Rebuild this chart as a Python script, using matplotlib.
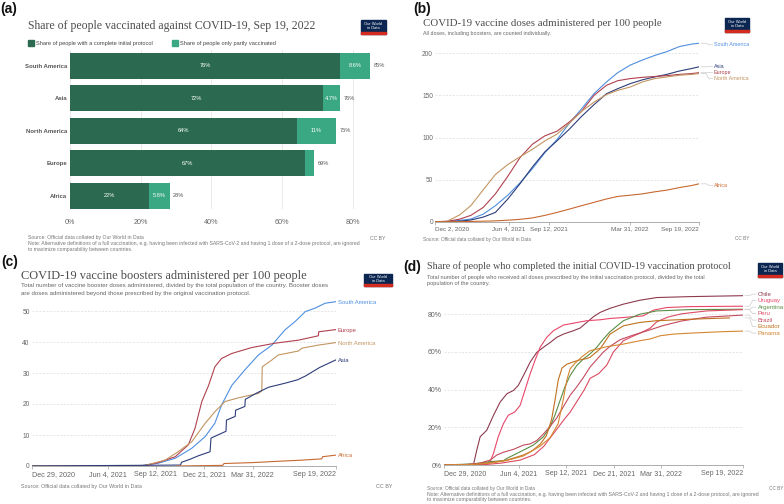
import matplotlib
matplotlib.use("Agg")
import matplotlib.pyplot as plt
import matplotlib.dates as mdates
from matplotlib.lines import Line2D
from matplotlib.patches import Rectangle
import numpy as np
import pandas as pd

plt.rcParams['font.family'] = ['Liberation Sans', 'DejaVu Sans']

# ------------------------------------------------------------------ data
# (a) share vaccinated, Sep 19 2022
A_CATS = ["South America", "Asia", "North America", "Europe", "Africa"]
A_COMPLETE = [76.4, 71.7, 64.3, 66.6, 22.4]
A_PARTLY = [8.6, 4.7, 11.0, 2.5, 5.8]
A_XTICKS = [0, 20, 40, 60, 80]
A_LEGEND = ["Share of people with a complete initial protocol",
            "Share of people only partly vaccinated"]

# (b) doses administered per 100 people
B_DATES = ["2020-12-02", "2021-01-01", "2021-02-01", "2021-03-01", "2021-04-01",
           "2021-05-01", "2021-06-01", "2021-07-01", "2021-08-01", "2021-09-01",
           "2021-10-01", "2021-11-01", "2021-12-01", "2022-01-01", "2022-02-01",
           "2022-03-01", "2022-04-01", "2022-05-01", "2022-06-01", "2022-07-01",
           "2022-08-01", "2022-09-01", "2022-09-19"]
B_SOUTH_AMERICA = [0, 0.3, 1.5, 3.2, 9, 19, 31.5, 46, 63, 82, 97.5, 117, 134, 152,
                   166, 177, 186, 192, 197.5, 202, 208, 211, 212]
B_ASIA = [0, 0.1, 0.6, 2, 5.5, 11, 27, 45, 65, 83, 96, 110, 125, 139, 152, 158,
          164, 168.5, 172, 175, 179, 182, 184]
B_EUROPE = [0, 0.4, 3, 7.5, 17, 33, 54, 76, 92, 102, 107.5, 118.5, 131, 150, 162,
            167.5, 170, 171.5, 172.5, 173.5, 175, 176, 177]
B_NORTH_AMERICA = [0, 0.5, 8, 19, 38, 56, 68, 77, 86, 96, 104, 117, 131, 142, 151,
                   156, 160, 166, 170, 172, 174, 175, 176]
B_AFRICA = [0, 0, 0.1, 0.3, 0.6, 1, 1.8, 2.8, 4.5, 7.5, 11, 15, 19, 23, 27, 30,
            31.5, 33, 35.5, 37.5, 40.5, 43, 45]
B_XTICKS = ["2020-12-02", "2021-06-04", "2021-09-12", "2022-03-31", "2022-09-19"]
B_YTICKS = [0, 50, 100, 150, 200]

# (c) boosters per 100 people
C_SOUTH_AMERICA_DATES = ["2020-12-29", "2021-08-07", "2021-09-17", "2021-10-22",
                         "2021-11-25", "2021-12-23", "2022-01-12", "2022-01-26",
                         "2022-02-16", "2022-03-15", "2022-04-12", "2022-05-10",
                         "2022-06-06", "2022-06-27", "2022-07-18", "2022-08-07",
                         "2022-08-28", "2022-09-19"]
C_SOUTH_AMERICA = [0, 0, 0.9, 2.5, 5.7, 9.5, 13.8, 19.7, 26, 31, 35.8, 39, 43.9,
                   46.6, 49.8, 50.9, 52.5, 53]
C_EUROPE_DATES = ["2020-12-29", "2021-08-14", "2021-09-17", "2021-10-22",
                  "2021-11-18", "2021-12-02", "2021-12-16", "2021-12-30",
                  "2022-01-12", "2022-01-26", "2022-02-16", "2022-03-29",
                  "2022-05-16", "2022-07-04", "2022-08-14", "2022-08-15",
                  "2022-09-19"]
C_EUROPE = [0, 0, 1.1, 3, 6.8, 12.2, 20.8, 26, 32, 34.7, 36.3, 38.2, 39.6, 40.6,
            42, 43.3, 44]
C_NORTH_AMERICA_DATES = ["2020-12-29", "2021-08-16", "2021-10-01", "2021-10-28",
                         "2021-11-25", "2021-12-23", "2022-01-12", "2022-02-02",
                         "2022-03-02", "2022-04-12", "2022-04-19", "2022-04-20",
                         "2022-05-10", "2022-05-23", "2022-07-04", "2022-07-11",
                         "2022-08-14", "2022-09-19"]
C_NORTH_AMERICA = [0, 0, 1.9, 4.6, 7.8, 13.8, 17.5, 20.8, 22, 23.4, 24.2, 32,
                   34.2, 35.8, 37.1, 38, 39, 39.8]
C_ASIA_DATES = ["2020-12-29", "2021-11-02", "2021-11-04", "2021-11-22",
                "2021-12-09", "2022-01-02", "2022-01-04", "2022-02-04",
                "2022-02-05", "2022-02-23", "2022-02-24", "2022-03-15",
                "2022-03-16", "2022-04-08", "2022-05-03", "2022-06-06",
                "2022-07-02", "2022-07-18", "2022-08-17", "2022-09-19"]
C_ASIA = [0, 0.3, 1.2, 2.2, 3.3, 4.6, 9, 11.2, 14.8, 16, 18, 19.2, 21.5, 23.5,
          25.4, 26.7, 27.8, 29, 31.8, 34.2]
C_AFRICA_DATES = ["2021-10-25", "2022-01-28", "2022-01-31", "2022-03-31",
                  "2022-06-02", "2022-07-12", "2022-08-21", "2022-08-23",
                  "2022-09-19"]
C_AFRICA = [0, 0.2, 0.8, 1.1, 1.6, 1.9, 2.3, 3.0, 3.5]
C_XTICKS = ["2020-12-29", "2021-06-04", "2021-09-12", "2021-12-21", "2022-03-31",
            "2022-09-19"]
C_YTICKS = [0, 10, 20, 30, 40, 50]

# (d) share with complete initial protocol
D_CHILE_DATES = ["2020-12-29", "2021-03-01", "2021-03-08", "2021-03-15", "2021-03-29",
                 "2021-04-12", "2021-04-26", "2021-05-10", "2021-05-24", "2021-06-03",
                 "2021-06-14", "2021-06-28", "2021-07-12", "2021-07-26", "2021-08-09",
                 "2021-08-23", "2021-09-06", "2021-09-27", "2021-10-11", "2021-10-25",
                 "2021-11-08", "2021-11-22", "2021-12-13", "2022-01-10", "2022-02-14",
                 "2022-03-21", "2022-05-30", "2022-09-19"]
D_CHILE = [0, 0.3, 8, 15, 18.5, 26.4, 33.4, 37.8, 39.6, 42.2, 47.5, 54.6, 59.8, 62.5,
           65, 67.8, 69.5, 71.3, 72.7, 75.7, 78.7, 81, 83.2, 85.4, 87.5, 88.9, 89.4,
           89.9]
D_URUGUAY_DATES = ["2020-12-29", "2021-03-29", "2021-04-05", "2021-04-12", "2021-04-22",
                   "2021-05-03", "2021-05-13", "2021-05-27", "2021-06-07", "2021-06-17",
                   "2021-06-28", "2021-07-08", "2021-07-19", "2021-08-02", "2021-08-16",
                   "2021-09-06", "2021-09-27", "2021-10-25", "2021-11-22", "2021-12-13",
                   "2022-01-10", "2022-02-21", "2022-03-14", "2022-04-11", "2022-05-30",
                   "2022-09-19"]
D_URUGUAY = [0, 0.5, 1.8, 6.2, 15, 22, 26.4, 28.2, 31.7, 39.6, 48.4, 55.4, 62.5, 67.8,
             71.3, 74.3, 75.3, 76.6, 77.1, 77.8, 78.3, 79.2, 82.2, 83.6, 84.1, 84.3]
D_ARGENTINA_DATES = ["2020-12-29", "2021-03-01", "2021-04-05", "2021-05-03",
                     "2021-05-10", "2021-06-07", "2021-07-05", "2021-07-26",
                     "2021-08-09", "2021-08-19", "2021-08-30", "2021-09-09",
                     "2021-09-20", "2021-10-04", "2021-10-18", "2021-11-01",
                     "2021-11-15", "2021-11-29", "2021-12-13", "2022-01-10",
                     "2022-02-14", "2022-03-21", "2022-05-30", "2022-09-19"]
D_ARGENTINA = [0, 0.6, 1.8, 2.3, 3.5, 7, 10.6, 15, 20.2, 26.4, 34.3, 41.4, 47.5,
               52.8, 56.3, 59, 62.5, 66.9, 70.8, 76.6, 80.1, 81.8, 82.5, 82.7]
D_PERU_DATES = ["2020-12-29", "2021-03-29", "2021-04-28", "2021-06-07", "2021-07-07",
                "2021-07-27", "2021-08-11", "2021-08-26", "2021-09-10", "2021-09-20",
                "2021-10-05", "2021-10-20", "2021-11-01", "2021-11-19", "2021-12-06",
                "2021-12-20", "2022-01-10", "2022-01-31", "2022-02-14", "2022-03-07",
                "2022-03-21", "2022-04-13", "2022-05-13", "2022-07-04", "2022-09-19"]
D_PERU = [0, 0.3, 1, 2.6, 5.5, 10, 15, 20, 25, 28, 34, 40, 46, 48.5, 53, 60, 66,
          68.5, 70, 72.6, 76, 78.5, 80.3, 81.8, 82.5]
D_BRAZIL_DATES = ["2020-12-29", "2021-02-17", "2021-03-15", "2021-04-05", "2021-04-19",
                  "2021-05-03", "2021-05-24", "2021-06-14", "2021-06-28", "2021-07-12",
                  "2021-07-26", "2021-08-09", "2021-08-23", "2021-09-06", "2021-09-20",
                  "2021-10-04", "2021-10-18", "2021-11-01", "2021-11-15", "2021-11-29",
                  "2021-12-13", "2022-01-03", "2022-01-31", "2022-03-04", "2022-04-03",
                  "2022-05-13", "2022-07-04", "2022-09-19"]
D_BRAZIL = [0, 0.3, 1, 2.6, 5.3, 6.8, 8.3, 10.6, 11.2, 13, 16.5, 20.5, 25, 31, 37,
            41.5, 46.5, 52, 56, 60, 63, 66.5, 69, 71.5, 74, 76.5, 78.5, 79.6]
D_ECUADOR_DATES = ["2020-12-29", "2021-03-01", "2021-04-05", "2021-05-10", "2021-06-14",
                   "2021-07-02", "2021-07-19", "2021-08-01", "2021-08-12", "2021-08-19",
                   "2021-08-26", "2021-09-03", "2021-09-13", "2021-09-27", "2021-10-11",
                   "2021-10-25", "2021-11-01", "2021-11-22", "2021-12-13", "2022-01-10",
                   "2022-02-14", "2022-03-21", "2022-05-30", "2022-08-21"]
D_ECUADOR = [0, 0.3, 1.2, 2.6, 5.3, 7.5, 11, 15.5, 24, 34, 45, 51.5, 53.5, 54.8,
             55.8, 56.5, 57.2, 61.6, 69.5, 73.9, 75.7, 76.6, 77.4, 78.1]
D_PANAMA_DATES = ["2020-12-29", "2021-03-01", "2021-04-05", "2021-05-10", "2021-06-14",
                  "2021-07-19", "2021-08-09", "2021-08-26", "2021-09-05", "2021-09-13",
                  "2021-09-20", "2021-09-30", "2021-10-15", "2021-11-01", "2021-12-06",
                  "2022-01-10", "2022-02-14", "2022-03-07", "2022-03-28", "2022-04-25",
                  "2022-05-30", "2022-08-08", "2022-09-19"]
D_PANAMA = [0, 0.3, 1.0, 2.4, 4.8, 10, 14.5, 22, 34, 45, 51, 54, 57.5, 60.7, 62.8,
            64.2, 66, 66.9, 68.6, 69.5, 70, 70.8, 71.1]
D_XTICKS = ["2020-12-29", "2021-06-04", "2021-09-12", "2021-12-21", "2022-03-31",
            "2022-09-19"]
D_YTICKS = [0, 20, 40, 60, 80]

# ------------------------------------------------------------------ style
SERIF = ['Liberation Serif', 'DejaVu Serif']
TITLE_C = '#4d4d4d'
SUB_C = '#666666'
TICK_C = '#666666'
DARK_GREEN = '#2b6a50'
LIGHT_GREEN = '#3aa883'
COL = {
    "South America": '#4f8fe0', "Asia": '#2d3d7a', "Europe": '#b0414f',
    "North America": '#c39562', "Africa": '#c8682f',
    "Chile": '#8e3a4e', "Uruguay": '#e8476a', "Argentina": '#5b8e47',
    "Peru": '#dc4b62', "Brazil": '#c44b5f', "Ecuador": '#c0711f', "Panama": '#d68632',
}

W, H = 784, 504
fig = plt.figure(figsize=(W / 100, H / 100), dpi=100)


def px_rect(l, t, r, b):
    return [l / W, 1 - b / H, (r - l) / W, (b - t) / H]


def ftext(x, y, s, **kw):
    kw.setdefault('va', 'center')
    kw.setdefault('ha', 'left')
    return fig.text(x / W, 1 - y / H, s, **kw)


def fline(xs, ys, **kw):
    fig.add_artist(Line2D([x / W for x in xs], [1 - y / H for y in ys],
                          transform=fig.transFigure, **kw))


def logo(l, t, r, b, fs=2.9):
    fig.add_artist(Rectangle((l / W, 1 - b / H), (r - l) / W, (b - t) / H,
                             transform=fig.transFigure, color='#0b2650', zorder=5))
    fig.add_artist(Rectangle((l / W, 1 - b / H), (r - l) / W, 1.6 / H,
                             transform=fig.transFigure, color='#d42b21', zorder=6))
    ftext((l + r) / 2, (t + b) / 2 - 0.8, "Our World\nin Data", ha='center',
          color='white', fontsize=fs, linespacing=0.95, zorder=7)


def to_px(ax, x, y):
    dx, dy = ax.transData.transform((mdates.date2num(x), y))
    return dx, H - dy


def spread(desired, gap):
    idx = sorted(range(len(desired)), key=lambda i: desired[i])
    clusters = [[i] for i in idx]

    def start(c):
        return np.mean([desired[i] for i in c]) - gap * (len(c) - 1) / 2
    changed = True
    while changed:
        changed = False
        for k in range(len(clusters) - 1):
            a, b = clusters[k], clusters[k + 1]
            if start(a) + gap * len(a) > start(b):
                clusters[k] = a + b
                del clusters[k + 1]
                changed = True
                break
    out = [0.0] * len(desired)
    for c in clusters:
        s = start(c)
        for k, i in enumerate(c):
            out[i] = s + gap * k
    return out


def date_label(d):
    return f"{d:%b} {d.day}, {d.year}"


def style_line_axes(ax, xticks, yticks, yfmt, xfs, yfs):
    for s in ['top', 'right', 'left']:
        ax.spines[s].set_visible(False)
    ax.spines['bottom'].set_color('#a0a0a0')
    ax.spines['bottom'].set_linewidth(0.6)
    ax.set_yticks(yticks)
    ax.set_yticklabels([yfmt(v) for v in yticks])
    ax.yaxis.grid(True, color='#dcdcdc', lw=0.5, ls=(0, (3, 2)))
    ax.set_axisbelow(True)
    ax.tick_params(axis='y', length=0, pad=1.5, labelsize=yfs, labelcolor=TICK_C)
    xt = pd.to_datetime(xticks)
    ax.set_xticks(xt)
    ax.set_xticklabels([date_label(d) for d in xt])
    ax.tick_params(axis='x', length=2.5, width=0.5, color='#a0a0a0', pad=1,
                   labelsize=xfs, labelcolor=TICK_C)
    labs = ax.get_xticklabels()
    labs[0].set_ha('left')
    labs[-1].set_ha('right')
    ax.set_facecolor('none')


# ------------------------------------------------------------------ panel (a)
axa = fig.add_axes(px_rect(70, 50, 372, 209))
ypos = np.arange(len(A_CATS))[::-1]
axa.barh(ypos, A_COMPLETE, height=0.8, color=DARK_GREEN, zorder=2)
axa.barh(ypos, A_PARTLY, left=A_COMPLETE, height=0.8, color=LIGHT_GREEN, zorder=2)
axa.set_xlim(0, 85.5)
axa.set_ylim(-0.4, 4.49)
axa.set_xticks(A_XTICKS)
axa.set_xticklabels([f"{v}%" for v in A_XTICKS])
axa.xaxis.grid(True, color='#e6e6e6', lw=0.6)
axa.set_axisbelow(True)
axa.set_yticks(ypos)
axa.set_yticklabels(A_CATS, fontweight='bold', fontsize=4.3, color='#555555')
axa.tick_params(axis='y', length=0, pad=2)
axa.tick_params(axis='x', length=0, pad=7, labelsize=5.2, labelcolor=TICK_C)
for s in axa.spines.values():
    s.set_visible(False)
for y, c, p in zip(ypos, A_COMPLETE, A_PARTLY):
    axa.text(c / 2, y, f"{c:.0f}%", color='white', fontsize=4.1, ha='center',
             va='center', zorder=3)
    if p >= 4:
        axa.text(c + p / 2, y, f"{p:.0f}%" if p >= 10 else f"{p:.1f}%", color='white',
                 fontsize=4.1, ha='center', va='center', zorder=3)
    axa.text(c + p + 1.0, y, f"{c + p:.0f}%", color='#555555', fontsize=4.1,
             ha='left', va='center', zorder=3)

ftext(0, 9, "(a)", fontsize=10, fontweight='bold', color='#111111')
ftext(28, 26, "Share of people vaccinated against COVID-19, Sep 19, 2022",
      family=SERIF, fontsize=8.5, color=TITLE_C)
logo(361, 20, 386, 34)
fig.add_artist(Rectangle((28 / W, 1 - 46 / H), 6 / W, 6 / H, transform=fig.transFigure,
                         color=DARK_GREEN))
ftext(36.5, 43, A_LEGEND[0], fontsize=4.1, color='#444444')
fig.add_artist(Rectangle((172 / W, 1 - 46 / H), 6 / W, 6 / H, transform=fig.transFigure,
                         color=LIGHT_GREEN))
ftext(180.5, 43, A_LEGEND[1], fontsize=4.1, color='#444444')
ftext(28, 238, "Source: Official data collated by Our World in Data", fontsize=3.7,
      color='#777777')
ftext(386, 238, "CC BY", fontsize=3.7, color='#777777', ha='right')
ftext(28, 243.5, "Note: Alternative definitions of a full vaccination, e.g. having been "
      "infected with SARS-CoV-2 and having 1 dose of a 2-dose protocol, are ignored",
      fontsize=3.7, color='#777777')
ftext(28, 249, "to maximize comparability between countries.", fontsize=3.7,
      color='#777777')

# ------------------------------------------------------------------ panel (b)
axb = fig.add_axes(px_rect(435, 42.4, 699, 221.7))
bd = pd.to_datetime(B_DATES)
b_series = [("South America", B_SOUTH_AMERICA), ("Asia", B_ASIA),
            ("Europe", B_EUROPE), ("North America", B_NORTH_AMERICA),
            ("Africa", B_AFRICA)]
for name, vals in b_series:
    axb.plot(bd, vals, color=COL[name], lw=0.8)
axb.set_xlim(bd[0], bd[-1])
axb.set_ylim(0, 213)
style_line_axes(axb, B_XTICKS, B_YTICKS, lambda v: f"{v}", 4.6, 4.7)
ends = [to_px(axb, bd[-1], v[-1])[1] for _, v in b_series]
labs = spread(ends, 6.2)
for (name, _), ye, yl in zip(b_series, ends, labs):
    fline([701, 706, 709, 712.5], [ye, ye, yl + 1.5, yl + 1.5], color='#cccccc', lw=0.5)
    ftext(714, yl + 1.5, name, fontsize=3.85, color=COL[name])

ftext(413, 9, "(b)", fontsize=10, fontweight='bold', color='#111111')
ftext(423, 24, "COVID-19 vaccine doses administered per 100 people", family=SERIF,
      fontsize=7.8, color=TITLE_C)
ftext(423, 34, "All doses, including boosters, are counted individually.",
      fontsize=3.8, color=SUB_C)
logo(725, 18, 749, 32)
ftext(423, 239, "Source: Official data collated by Our World in Data", fontsize=3.4,
      color='#777777')
ftext(749, 239, "CC BY", fontsize=3.4, color='#777777', ha='right')

# ------------------------------------------------------------------ panel (c)
axc = fig.add_axes(px_rect(31.7, 298.6, 335.7, 466))
c_series = [("South America", C_SOUTH_AMERICA_DATES, C_SOUTH_AMERICA),
            ("Europe", C_EUROPE_DATES, C_EUROPE),
            ("North America", C_NORTH_AMERICA_DATES, C_NORTH_AMERICA),
            ("Asia", C_ASIA_DATES, C_ASIA),
            ("Africa", C_AFRICA_DATES, C_AFRICA)]
for name, ds, vals in c_series:
    axc.plot(pd.to_datetime(ds), vals, color=COL[name], lw=0.8)
cx = pd.to_datetime(C_XTICKS)
axc.set_xlim(cx[0], cx[-1])
axc.set_ylim(0, 54)
style_line_axes(axc, C_XTICKS, C_YTICKS, lambda v: f"{v}", 5.2, 4.8)
ends = [to_px(axc, pd.Timestamp(ds[-1]), v[-1])[1] for _, ds, v in c_series]
labs = spread(ends, 6.0)
for (name, _, _), yl in zip(c_series, labs):
    ftext(338, yl + 0.5, name, fontsize=4.25, color=COL[name])

ftext(1, 262, "(c)", fontsize=10, fontweight='bold', color='#111111')
ftext(21, 276, "COVID-19 vaccine boosters administered per 100 people", family=SERIF,
      fontsize=8.9, color=TITLE_C)
ftext(21, 285.5, "Total number of vaccine booster doses administered, divided by the "
      "total population of the country. Booster doses", fontsize=4.4, color=SUB_C)
ftext(21, 293, "are doses administered beyond those prescribed by the original "
      "vaccination protocol.", fontsize=4.4, color=SUB_C)
logo(364, 274, 392, 286)
ftext(21, 486.7, "Source: Official data collated by Our World in Data", fontsize=3.9,
      color='#777777')
ftext(392, 486.7, "CC BY", fontsize=3.9, color='#777777', ha='right')

# ------------------------------------------------------------------ panel (d)
axd = fig.add_axes(px_rect(444, 293.6, 743.3, 465))
d_series = [("Chile", D_CHILE_DATES, D_CHILE), ("Uruguay", D_URUGUAY_DATES, D_URUGUAY),
            ("Argentina", D_ARGENTINA_DATES, D_ARGENTINA),
            ("Peru", D_PERU_DATES, D_PERU), ("Brazil", D_BRAZIL_DATES, D_BRAZIL),
            ("Ecuador", D_ECUADOR_DATES, D_ECUADOR),
            ("Panama", D_PANAMA_DATES, D_PANAMA)]
for name, ds, vals in d_series:
    axd.plot(pd.to_datetime(ds), vals, color=COL[name], lw=0.8)
dx = pd.to_datetime(D_XTICKS)
axd.set_xlim(dx[0], dx[-1])
axd.set_ylim(0, 91)
style_line_axes(axd, D_XTICKS, D_YTICKS, lambda v: f"{v}%", 5.0, 5.0)
ends = [to_px(axd, pd.Timestamp(ds[-1]), v[-1])[1] for _, ds, v in d_series]
labs = spread(ends, 6.5)
for (name, _, _), ye, yl in zip(d_series, ends, labs):
    fline([745, 749.5, 752.5, 756], [ye, ye, yl + 1.5, yl + 1.5], color='#cccccc',
          lw=0.5)
    ftext(758, yl + 1.5, name, fontsize=4.4, color=COL[name])

ftext(403, 266.5, "(d)", fontsize=10, fontweight='bold', color='#111111')
ftext(427, 266.5, "Share of people who completed the initial COVID-19 vaccination "
      "protocol", family=SERIF, fontsize=7.3, color=TITLE_C)
ftext(427, 277, "Total number of people who received all doses prescribed by the "
      "initial vaccination protocol, divided by the total", fontsize=4.1, color=SUB_C)
ftext(427, 284, "population of the country.", fontsize=4.1, color=SUB_C)
logo(758, 263, 782, 277)
ftext(427, 488.3, "Source: Official data collated by Our World in Data", fontsize=3.4,
      color='#777777')
ftext(783, 488.3, "CC BY", fontsize=3.4, color='#777777', ha='right')
ftext(427, 494.5, "Note: Alternative definitions of a full vaccination, e.g. having been "
      "infected with SARS-CoV-2 and having 1 dose of a 2-dose protocol, are ignored",
      fontsize=3.7, color='#777777')
ftext(427, 500, "to maximize comparability between countries.", fontsize=3.7,
      color='#777777')

fig.savefig("out.png", dpi=100)
